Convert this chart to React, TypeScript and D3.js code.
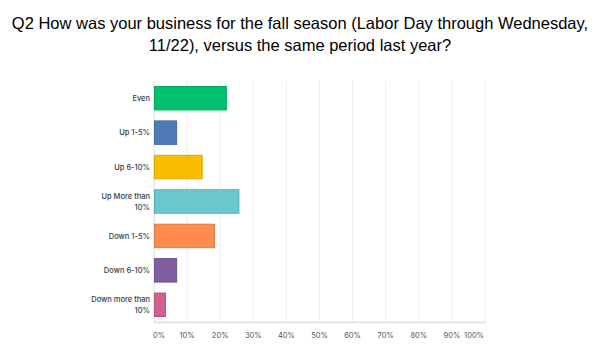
import { useEffect, useRef } from "react";
import * as d3 from "d3";

const categories = [
  ["Even"],
  ["Up 1-5%"],
  ["Up 6-10%"],
  ["Up More than", "10%"],
  ["Down 1-5%"],
  ["Down 6-10%"],
  ["Down more than", "10%"],
];
const values = [22.0, 7.0, 14.7, 25.8, 18.4, 7.0, 3.6];
const colors = ["#00bf6f", "#507cb6", "#f9be00", "#6bc8cd", "#ff8b4f", "#7f5fa0", "#d25f90"];
const ticks = [0, 10, 20, 30, 40, 50, 60, 70, 80, 90, 100];
const titleLines = [
  "Q2 How was your business for the fall season (Labor Day through Wednesday,",
  "11/22), versus the same period last year?",
];

export default function App() {
  const svgRef = useRef<SVGSVGElement>(null);

  useEffect(() => {
    if (!svgRef.current) return;
    const width = 600;
    const height = 358;
    const svg = d3.select(svgRef.current).attr("width", width).attr("height", height);
    svg.selectAll("*").remove();

    const left = 154, right = 485, top = 81, bottom = 322;

    const x = d3.scaleLinear().domain([0, 100]).range([left, right]);
    const y = d3.scaleBand<number>()
      .domain(d3.range(categories.length))
      .range([top, bottom])
      .paddingInner(0.29)
      .paddingOuter(0.145);

    svg.append("g")
      .selectAll("text")
      .data(titleLines)
      .enter()
      .append("text")
      .attr("x", 300)
      .attr("y", (_, i) => 29 + i * 22)
      .attr("text-anchor", "middle")
      .attr("font-family", "Liberation Sans, Arial, sans-serif")
      .attr("font-size", 16.5)
      .attr("fill", "#000")
      .text((d) => d);

    // gridlines
    svg.append("g")
      .selectAll("line")
      .data(ticks)
      .enter()
      .append("line")
      .attr("x1", (d) => x(d))
      .attr("x2", (d) => x(d))
      .attr("y1", top)
      .attr("y2", bottom)
      .attr("stroke", (d) => (d === 0 ? "#d8d8d8" : "#ececec"))
      .attr("stroke-width", 1);

    svg.append("line")
      .attr("x1", left)
      .attr("x2", right + 1)
      .attr("y1", bottom + 0.5)
      .attr("y2", bottom + 0.5)
      .attr("stroke", "#dcdcdc")
      .attr("stroke-width", 1.5);

    svg.append("g")
      .selectAll("rect")
      .data(values)
      .enter()
      .append("rect")
      .attr("x", x(0) + 0.5)
      .attr("y", (_, i) => y(i)! + 0.5)
      .attr("width", (d) => x(d) - x(0) - 1)
      .attr("height", y.bandwidth() - 1)
      .attr("fill", (_, i) => colors[i])
      .attr("stroke", (_, i) => d3.color(colors[i])!.darker(0.4).toString())
      .attr("stroke-width", 1);

    const labels = svg.append("g")
      .selectAll("text")
      .data(categories)
      .enter()
      .append("text")
      .attr("text-anchor", "end")
      .attr("font-family", "Inter, Open Sans, sans-serif")
      .attr("font-size", 7.5)
      .attr("font-weight", 500)
      .attr("fill", "#333e48")
      .attr("transform", (d, i) => {
        const cy = y(i)! + y.bandwidth() / 2;
        const offset = ((d.length - 1) * 11) / 2;
        return `translate(150,${cy - offset + 2.8})`;
      });
    labels.selectAll("tspan")
      .data((d) => d)
      .enter()
      .append("tspan")
      .attr("x", 0)
      .attr("dy", (_, j) => (j === 0 ? 0 : 11))
      .text((d) => d);

    svg.append("g")
      .selectAll("text")
      .data(ticks)
      .enter()
      .append("text")
      .attr("x", (d) => x(d))
      .attr("y", 338)
      .attr("text-anchor", (d) => (d === 0 ? "start" : d === 100 ? "end" : "middle"))
      .attr("dx", (d) => (d === 0 ? -1 : d === 100 ? -1 : 0))
      .attr("font-family", "Inter, Open Sans, sans-serif")
      .attr("font-size", 7.5)
      .attr("fill", "#555")
      .text((d) => `${d}%`);
  }, []);

  return (
    <div style={{ margin: -8, width: 600, height: 358, background: "#fff" }}>
      <svg ref={svgRef} style={{ display: "block" }} />
    </div>
  );
}
